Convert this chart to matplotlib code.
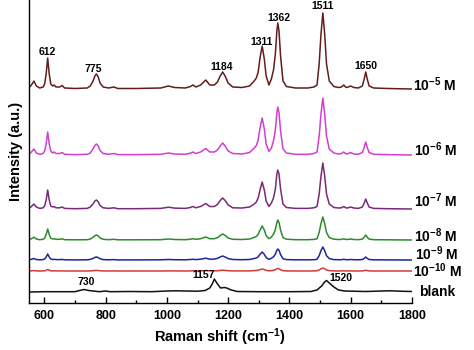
import matplotlib
matplotlib.use("Agg")
import matplotlib.pyplot as plt
from matplotlib.ticker import MultipleLocator

plt.rcParams["font.family"] = ["Liberation Sans", "DejaVu Sans"]
plt.rcParams["font.weight"] = "bold"
plt.rcParams["mathtext.fontset"] = "custom"
plt.rcParams["mathtext.rm"] = "Liberation Sans:bold"
plt.rcParams["mathtext.bf"] = "Liberation Sans:bold"
plt.rcParams["mathtext.default"] = "bf"

# wavenumber grid shared by the concentration spectra (cm-1)
shift = [552, 558, 566, 574, 585, 596, 601, 606, 611, 616,
         621, 627, 632, 638, 650, 658, 666, 700, 740, 750,
         759, 765, 770, 776, 782, 792, 810, 827, 840, 900,
         980, 1005, 1025, 1060, 1077, 1085, 1095, 1110, 1127, 1140,
         1155, 1165, 1174, 1182, 1190, 1200, 1215, 1245, 1270, 1285,
         1292, 1298, 1304, 1311, 1318, 1324, 1333, 1341, 1348, 1354,
         1359, 1362, 1366, 1371, 1379, 1390, 1420, 1460, 1480, 1490,
         1497, 1503, 1509, 1515, 1521, 1530, 1545, 1560, 1570, 1577,
         1585, 1592, 1600, 1610, 1625, 1638, 1644, 1649, 1654, 1660,
         1675, 1720, 1800]

# intensity above each baseline (a.u.)
i_1e5 = [2, 4, 8, 3, 1, 2, 5, 15, 31, 15,
         5, 3, 4, 2, 2, 3.5, 1, 0.5, 1, 3,
         8, 13, 15, 12, 6, 2, 1, 2, 0.5, 0.5,
         1, 3, 1.5, 1, 2.5, 4, 2, 4, 9, 4,
         4, 7, 13, 17, 13, 6, 2, 1.5, 3, 8,
         11, 17, 31, 43, 30, 13, 4, 10, 19, 35,
         58, 66, 58, 33, 8, 2.5, 1, 1, 2, 4,
         25, 55, 76, 55, 25, 8, 2.5, 1.5, 2, 4,
         1.5, 2, 3, 1.5, 1, 3, 10, 17, 10, 3,
         1, 0.5, 0]
i_1e6 = [1.5, 3, 6, 2, 0.7, 1.5, 4, 11, 23, 11,
         4, 2, 3, 1.5, 1.5, 2.5, 0.7, 0.4, 0.7, 2,
         6, 9.5, 11, 9, 4.5, 1.5, 0.7, 1.5, 0.4, 0.4,
         0.7, 2, 1, 0.7, 1.8, 3, 1.5, 3, 6.5, 3,
         3, 5, 9, 12, 9, 4, 1.5, 1, 2.5, 7,
         9.5, 15, 27, 37, 26, 11, 3.5, 7, 14, 25,
         42, 48, 42, 24, 6, 2, 0.7, 0.7, 1.5, 3,
         19, 41, 57, 41, 19, 6, 2, 1, 1.5, 3,
         1, 1.5, 2.5, 1, 0.7, 2.5, 7.5, 13, 7.5, 2.5,
         0.7, 0.4, 0]
i_1e7 = [1.2, 2.5, 5, 2, 0.6, 1.2, 3, 9, 19, 9,
         3, 2, 2.5, 1.2, 1.2, 2, 0.6, 0.3, 0.6, 2,
         5, 8, 9, 7, 3.5, 1.2, 0.6, 1.2, 0.3, 0.3,
         0.6, 1.8, 0.9, 0.6, 1.5, 2.5, 1.2, 2.5, 5.5, 2.5,
         2.5, 4.5, 8.5, 11, 8.5, 4, 1.2, 1, 2, 5,
         7, 11, 19, 27, 19, 8, 2.5, 6, 11, 20,
         35, 39, 35, 20, 5, 1.5, 0.6, 0.6, 1.2, 2.5,
         15, 33, 46, 33, 15, 5, 1.5, 1, 1.2, 2.5,
         1, 1.2, 2, 1, 0.6, 2, 6, 10, 6, 2,
         0.6, 0.3, 0]
i_1e8 = [0.7, 1.3, 2.8, 1, 0.3, 0.7, 1.8, 5.5, 11, 5.5,
         1.8, 1, 1.3, 0.7, 0.7, 1.2, 0.3, 0.2, 0.3, 1,
         2.7, 4.3, 5, 4, 2, 0.7, 0.3, 0.7, 0.2, 0.2,
         0.3, 1, 0.5, 0.3, 0.8, 1.3, 0.7, 1.3, 3, 1.3,
         1.3, 2.3, 4.5, 6, 4.5, 2, 0.7, 0.5, 1, 2.6,
         3.6, 5.6, 10, 14, 10, 4.3, 1.3, 3, 5.8, 10.5,
         17.5, 20, 17.5, 10, 2.4, 0.8, 0.3, 0.3, 0.6, 1.2,
         7.5, 16.5, 23, 16.5, 7.5, 2.4, 0.8, 0.5, 0.6, 1.2,
         0.5, 0.6, 1, 0.5, 0.3, 0.9, 2.7, 5, 2.7, 0.9,
         0.3, 0.2, 0]
i_1e9 = [0.4, 0.7, 1.5, 0.5, 0.2, 0.4, 1, 3, 6, 3,
         1, 0.5, 0.7, 0.4, 0.4, 0.6, 0.2, 0.1, 0.2, 0.6,
         1.6, 2.6, 3, 2.4, 1.2, 0.4, 0.2, 0.4, 0.1, 0.1,
         0.2, 0.5, 0.3, 0.2, 0.5, 0.7, 0.4, 0.8, 1.8, 0.8,
         0.9, 1.6, 3, 4, 3, 1.4, 0.5, 0.3, 0.5, 1.5,
         2, 3.2, 5.8, 8, 5.6, 2.4, 0.7, 1.7, 3.2, 5.8,
         9.7, 11, 9.7, 5.5, 1.3, 0.4, 0.2, 0.2, 0.3, 0.7,
         4.3, 9.4, 13, 9.4, 4.3, 1.4, 0.4, 0.3, 0.3, 0.7,
         0.3, 0.3, 0.5, 0.3, 0.2, 0.5, 1.6, 3, 1.6, 0.5,
         0.2, 0.1, 0]
i_1e10 = [0.1, 0.2, 0.4, 0.1, 0, 0.1, 0.2, 0.7, 1.5, 0.7,
          0.2, 0.1, 0.2, 0.1, 0.1, 0.1, 0, 0, 0, 0.1,
          0.3, 0.5, 0.6, 0.5, 0.2, 0.1, 0, 0.1, 0, 0,
          0, 0.1, 0.1, 0, 0.1, 0.2, 0.1, 0.2, 0.4, 0.2,
          0.2, 0.3, 0.6, 0.8, 0.6, 0.3, 0.1, 0.1, 0.1, 0.4,
          0.5, 0.8, 1.4, 2, 1.4, 0.6, 0.2, 0.4, 0.7, 1.3,
          2.2, 2.5, 2.2, 1.3, 0.3, 0.1, 0, 0, 0.1, 0.2,
          1, 2.2, 3, 2.2, 1, 0.3, 0.1, 0, 0.1, 0.2,
          0, 0.1, 0.1, 0, 0, 0.1, 0.4, 0.7, 0.4, 0.1,
          0, 0, 0]

blank_shift = [552, 600, 700, 715, 730, 745, 780, 800, 815, 880,
               950, 1000, 1030, 1060, 1100, 1125, 1140, 1148, 1155, 1163,
               1175, 1188, 1195, 1210, 1230, 1300, 1400, 1470, 1490, 1505,
               1515, 1521, 1530, 1545, 1560, 1580, 1650, 1700, 1730, 1760,
               1800]
blank_int = [0, 0.3, 0.3, 1.5, 2.5, 1.5, 0.3, 1, 0.3, 0.5,
             0.3, 1, 1.2, 1, 0.8, 1.5, 4, 8, 13, 9,
             4, 4.5, 4, 2, 0.5, 0.3, 0.3, 0.5, 2, 6,
             10, 11.5, 9, 5, 2, 1, 0.5, 1, 1.2, 0.8,
             0.5]

# vertical offsets of the stacked spectra
offsets = [214, 148, 94, 63, 43, 32, 11]
labels = [r"10$^{-5}$ M", r"10$^{-6}$ M", r"10$^{-7}$ M", r"10$^{-8}$ M",
          r"10$^{-9}$ M", r"10$^{-10}$ M", "blank"]
colors = ["#641c1c", "#d23ed2", "#7a287a", "#2c8a2c", "#22229e", "#d23a3a", "#111111"]
label_y = [218, 153, 102, 67, 49.5, 32.5, 11]
label_x = [1802, 1805, 1805, 1805, 1810, 1804, 1822]

peak_pos = [612, 775, 1184, 1311, 1362, 1511, 1650]
peak_txt_x = [609, 759, 1179, 1310, 1365, 1509, 1649]
peak_txt_y = [251, 234, 236, 261, 285, 297, 237]
blank_peaks = [730, 1157, 1520]
blank_txt_x = [736, 1119, 1568]
blank_txt_y = [21, 28, 25]

fig = plt.figure(figsize=(4.74, 3.5), dpi=100)
ax = fig.add_axes([29 / 474, 47 / 350, 383 / 474, 303 / 350])

series = [i_1e5, i_1e6, i_1e7, i_1e8, i_1e9, i_1e10]
for vals, off, col in zip(series, offsets[:6], colors[:6]):
    ax.plot(shift, [v + off for v in vals], color=col, lw=1.1)
ax.plot(blank_shift, [v + offsets[6] for v in blank_int], color=colors[6], lw=1.1)

for lab, lx, ly in zip(labels, label_x, label_y):
    ax.text(lx, ly, lab, fontsize=10, fontweight="bold", va="center", ha="left", clip_on=False)

for p, tx, ty in zip(peak_pos, peak_txt_x, peak_txt_y):
    ax.text(tx, ty, str(p), fontsize=7.5, fontweight="bold", ha="center", va="center")
for p, tx, ty in zip(blank_peaks, blank_txt_x, blank_txt_y):
    ax.text(tx, ty, str(p), fontsize=7.5, fontweight="bold", ha="center", va="center")

ax.set_xlim(550, 1800)
ax.set_ylim(0, 303)
ax.spines["top"].set_visible(False)
ax.spines["right"].set_visible(False)
ax.spines["left"].set_linewidth(1.0)
ax.spines["bottom"].set_linewidth(1.0)
ax.set_yticks([])
ax.xaxis.set_major_locator(MultipleLocator(200))
ax.xaxis.set_minor_locator(MultipleLocator(100))
ax.tick_params(axis="x", which="major", direction="in", length=4, width=1, labelsize=9, pad=5)
ax.tick_params(axis="x", which="minor", direction="in", length=2.5, width=1)
for t in ax.get_xticklabels():
    t.set_fontweight("bold")

ax.set_xlabel(r"Raman shift (cm$^{-1}$)", fontsize=10.5, fontweight="bold", labelpad=3)
ax.set_ylabel("Intensity (a.u.)", fontsize=10.5, fontweight="bold", labelpad=4)

fig.savefig("out.png", dpi=100)
